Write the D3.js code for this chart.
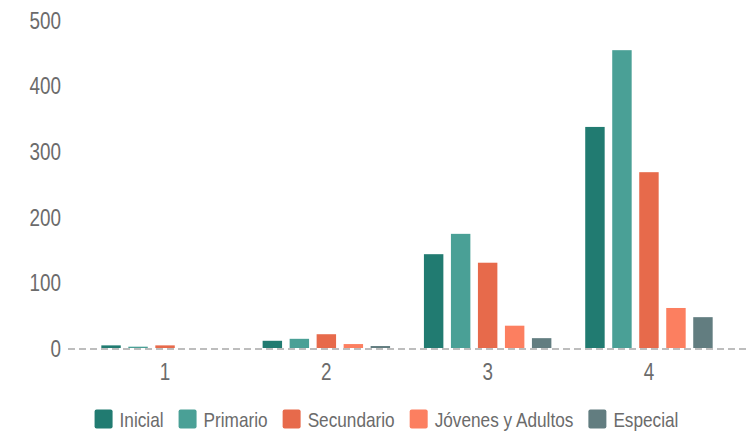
<!DOCTYPE html>
<html>
<head>
<meta charset="utf-8">
<script src="https://cdn.jsdelivr.net/npm/d3@7"></script>
<style>
  html, body { margin: 0; padding: 0; background: #fff; }
  svg { display: block; }
  text { font-family: "Liberation Sans", Arial, sans-serif; fill: #6b6b6b; }
</style>
</head>
<body>
<svg id="chart" width="748" height="432"></svg>
<script>
const categories = ["1", "2", "3", "4"];
const seriesNames = ["Inicial", "Primario", "Secundario", "Jóvenes y Adultos", "Especial"];
const inicial    = [4, 11, 143, 337];
const primario   = [2, 14, 174, 454];
const secundario = [4, 21, 130, 268];
const jovenes    = [0, 6, 34, 61];
const especial   = [0, 3, 15, 47];
const yTicks = [0, 100, 200, 300, 400, 500];
const colors = ["#217b71", "#4aa096", "#e76a4b", "#fc7f60", "#627d80"];

const seriesValues = [inicial, primario, secundario, jovenes, especial];
const SX = 0.82; // horizontal compression of text (narrow look)

const svg = d3.select("#chart");

const x0 = d3.scaleBand().domain(categories).range([84.4, 729.6]).paddingInner(0.163).paddingOuter(0.0815);
const x1 = d3.scaleBand().domain(seriesNames).range([0, x0.bandwidth()]).paddingInner(0.28).paddingOuter(0.14);
const y = d3.scaleLinear().domain([0, 500]).range([348, 20]);
const color = d3.scaleOrdinal().domain(seriesNames).range(colors);

// Y axis labels
const yAxis = d3.axisLeft(y).tickValues(yTicks).tickSize(0).tickPadding(0).tickFormat(d3.format("d"));
const gy = svg.append("g").attr("transform", "translate(61,0)").call(yAxis);
gy.select(".domain").remove();
gy.selectAll("text").attr("font-size", 23).attr("fill", "#6b6b6b")
  .style("font-family", '"Liberation Sans", Arial, sans-serif')
  .attr("x", 0).attr("dy", "0.36em")
  .attr("transform", `scale(${SX},1)`);

// Bars
const groups = svg.append("g").selectAll("g").data(categories).join("g")
  .attr("transform", d => `translate(${x0(d)},0)`);
groups.selectAll("rect")
  .data((c, i) => seriesNames.map((s, j) => ({ s, v: seriesValues[j][i] })))
  .join("rect")
  .attr("x", d => x1(d.s))
  .attr("width", x1.bandwidth())
  .attr("y", d => y(d.v))
  .attr("height", d => y(0) - y(d.v))
  .attr("fill", d => color(d.s));

// Dashed baseline
svg.append("line")
  .attr("x1", 68).attr("x2", 748)
  .attr("y1", y(0) + 1).attr("y2", y(0) + 1)
  .attr("stroke", "#bdbdbd").attr("stroke-width", 2)
  .attr("stroke-dasharray", "7,4");

// X axis labels
const xAxis = d3.axisBottom(x0).tickSize(0).tickPadding(0);
const gx = svg.append("g").attr("transform", `translate(0,${y(0)})`).call(xAxis);
gx.select(".domain").remove();
gx.selectAll("text").attr("font-size", 23).attr("fill", "#6b6b6b")
  .style("font-family", '"Liberation Sans", Arial, sans-serif')
  .attr("dy", null).attr("y", 32)
  .attr("transform", `scale(${SX},1)`);

// Legend
const legend = svg.append("g").attr("transform", "translate(0,419)");
const items = legend.selectAll("g").data(seriesNames).join("g");
items.append("rect").attr("width", 18).attr("height", 19).attr("y", -9.5).attr("rx", 2)
  .attr("fill", d => color(d));
items.append("text").attr("dy", "0.36em").attr("font-size", 21)
  .attr("transform", `translate(25,0) scale(${SX},1)`)
  .attr("fill", "#6b6b6b").text(d => d);
let widths = [];
items.each(function() { widths.push(25 + SX * this.querySelector("text").getComputedTextLength()); });
const gap = 15;
const total = d3.sum(widths) + gap * (widths.length - 1);
let cx = 386.5 - total / 2;
items.attr("transform", (d, i) => {
  const t = `translate(${cx},0)`;
  cx += widths[i] + gap;
  return t;
});
</script>
</body>
</html>
